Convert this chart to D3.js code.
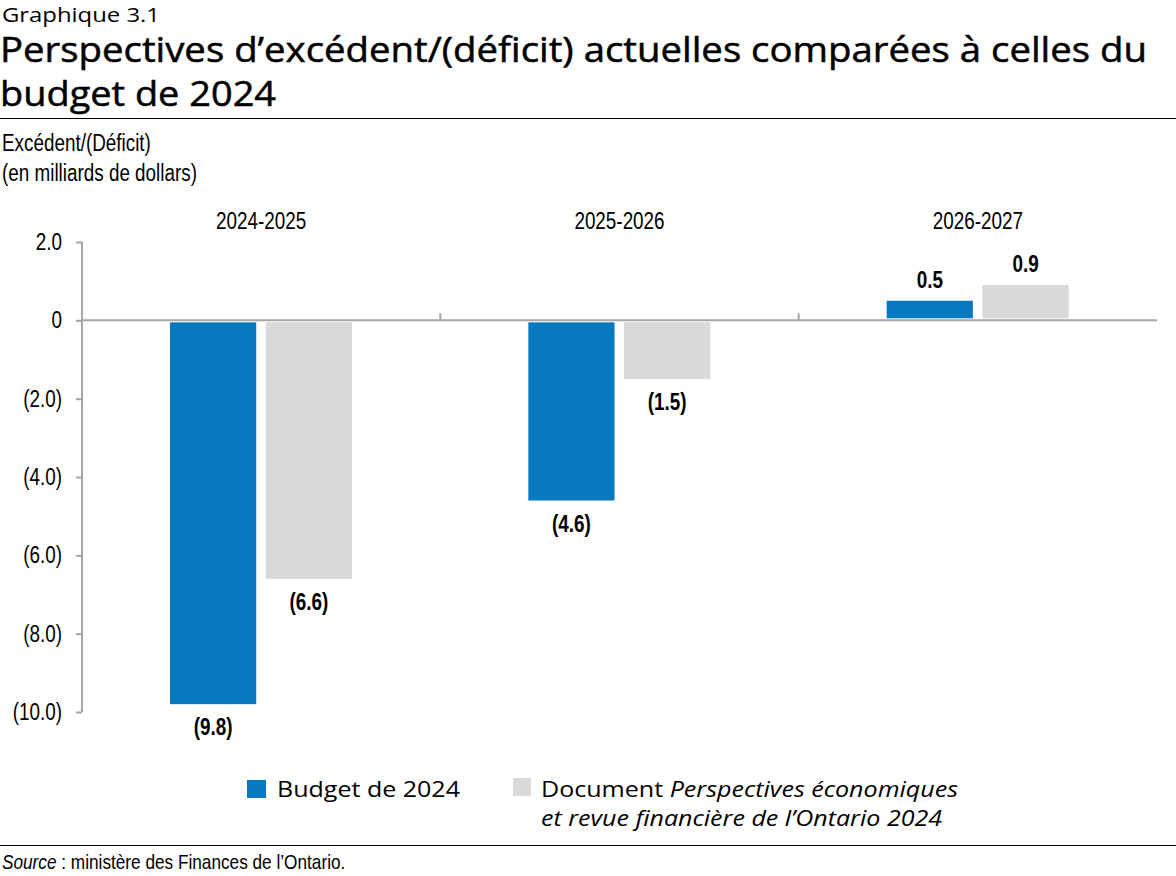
<!DOCTYPE html>
<html>
<head>
<meta charset="utf-8">
<script src="https://cdn.jsdelivr.net/npm/d3@7"></script>
<style>
  body { margin: 0; background: #fff; }
  .narrow { font-family: "Liberation Sans", Arial, sans-serif; }
  .title { font-family: "Open Sans", "Lato", sans-serif; }
</style>
</head>
<body>
<div id="chart"></div>
<script>
// data
var years = ['2024-2025', '2025-2026', '2026-2027'];
var budget2024 = [-9.8, -4.6, 0.5];
var fallStatement = [-6.6, -1.5, 0.9];
var yTicks = [2, 0, -2, -4, -6, -8, -10];
var seriesNames = ['Budget de 2024', 'Document Perspectives économiques et revue financière de l\u2019Ontario 2024'];
var colors = ['#0779bf', '#d9d9d9'];

var svgWidth = 1176;
var svgHeight = 876;
var margin = { top: 242, right: 19, bottom: 164, left: 82 };
var width = svgWidth - margin.left - margin.right;
var height = svgHeight - margin.top - margin.bottom;

var svg = d3.select('#chart')
    .append('svg')
    .attr('width', svgWidth)
    .attr('height', svgHeight);

// squeeze a text horizontally (no narrow font installed)
function squeeze(sel, factor) {
    sel.each(function() {
        var len = this.getComputedTextLength();
        d3.select(this).attr('textLength', len * factor).attr('lengthAdjust', 'spacingAndGlyphs');
    });
}
// fit a text to a given width
function fit(sel, w) {
    sel.attr('textLength', w).attr('lengthAdjust', 'spacingAndGlyphs');
}

// titles
svg.append('text').attr('class', 'title').attr('x', 2).attr('y', 22)
    .attr('font-size', '20px').text('Graphique 3.1').call(fit, 158);
svg.append('text').attr('class', 'title').attr('x', 0).attr('y', 62)
    .attr('font-size', '34px').attr('font-weight', 500)
    .attr('stroke', '#000').attr('stroke-width', 0.5)
    .text('Perspectives d\u2019excédent/(déficit) actuelles comparées à celles du')
    .call(fit, 1147);
svg.append('text').attr('class', 'title').attr('x', 0).attr('y', 106)
    .attr('font-size', '34px').attr('font-weight', 500)
    .attr('stroke', '#000').attr('stroke-width', 0.5)
    .text('budget de 2024').call(fit, 276);
svg.append('line').attr('x1', 0).attr('x2', svgWidth).attr('y1', 118.5).attr('y2', 118.5)
    .attr('stroke', '#000').attr('stroke-width', 1);

svg.append('text').attr('class', 'narrow').attr('x', 2).attr('y', 151)
    .attr('font-size', '23px').text('Excédent/(Déficit)').call(squeeze, 0.82);
svg.append('text').attr('class', 'narrow').attr('x', 2).attr('y', 181)
    .attr('font-size', '23px').text('(en milliards de dollars)').call(squeeze, 0.82);

var chartGroup = svg.append('g')
    .attr('transform', `translate(${margin.left}, ${margin.top})`);

// scales
var xScale = d3.scaleBand().domain(years).range([0, width]);
var xInner = d3.scaleBand().domain([0, 1]).range([88, 270]).paddingInner(0.1);
var yScale = d3.scaleLinear().domain([-10, 2]).range([height, 0]);

// y axis
var leftAxis = d3.axisLeft(yScale)
    .tickValues(yTicks)
    .tickSize(6)
    .tickPadding(14)
    .tickFormat(d => d === 0 ? '0' : d > 0 ? d3.format('.1f')(d) : '(' + d3.format('.1f')(-d) + ')');

var yAxisG = chartGroup.append('g').call(leftAxis);
yAxisG.select('.domain').attr('stroke', '#a6a6a6').attr('stroke-width', 2).attr('d', `M0,0V${height}`);
yAxisG.selectAll('.tick line').attr('stroke', '#a6a6a6').attr('stroke-width', 2);
yAxisG.selectAll('.tick text').attr('class', 'narrow').attr('font-size', '23px').attr('fill', '#000')
    .call(squeeze, 0.82);

// zero line with category ticks
chartGroup.append('line')
    .attr('x1', 0).attr('x2', width)
    .attr('y1', yScale(0)).attr('y2', yScale(0))
    .attr('stroke', '#a6a6a6').attr('stroke-width', 2);
chartGroup.selectAll('.cattick')
    .data(years.slice(1))
    .enter()
    .append('line')
    .attr('x1', d => xScale(d)).attr('x2', d => xScale(d))
    .attr('y1', yScale(0)).attr('y2', yScale(0) - 7)
    .attr('stroke', '#a6a6a6').attr('stroke-width', 2);

// category labels at top
chartGroup.selectAll('.catlabel')
    .data(years)
    .enter()
    .append('text')
    .attr('class', 'narrow')
    .attr('x', d => xScale(d) + xScale.bandwidth() / 2)
    .attr('y', -13)
    .attr('text-anchor', 'middle')
    .attr('font-size', '23px')
    .text(d => d)
    .call(squeeze, 0.82);

// bars
var series = [budget2024, fallStatement];
series.forEach(function(vals, si) {
    var g = chartGroup.append('g');
    g.selectAll('rect')
        .data(vals)
        .enter()
        .append('rect')
        .attr('x', (d, i) => xScale(years[i]) + xInner(si))
        .attr('width', xInner.bandwidth())
        .attr('y', d => d < 0 ? yScale(0) + 2 : yScale(d))
        .attr('height', d => Math.abs(yScale(d) - yScale(0)) - 2)
        .attr('fill', colors[si]);

    g.selectAll('text')
        .data(vals)
        .enter()
        .append('text')
        .attr('class', 'narrow')
        .attr('x', (d, i) => xScale(years[i]) + xInner(si) + xInner.bandwidth() / 2)
        .attr('y', d => d < 0 ? yScale(d) + 31 : yScale(d) - 13)
        .attr('text-anchor', 'middle')
        .attr('font-size', '23px')
        .attr('font-weight', 'bold')
        .text(d => d < 0 ? '(' + d3.format('.1f')(-d) + ')' : d3.format('.1f')(d))
        .call(squeeze, 0.82);
});

// legend
var legend = svg.append('g').attr('class', 'title');
legend.append('rect').attr('x', 247).attr('y', 780).attr('width', 19).attr('height', 18).attr('fill', colors[0]);
legend.append('text').attr('x', 277).attr('y', 797).attr('font-size', '22px').text(seriesNames[0]).call(fit, 183);
legend.append('rect').attr('x', 513).attr('y', 778).attr('width', 18).attr('height', 18).attr('fill', colors[1]);
var t2 = legend.append('text').attr('x', 541).attr('y', 797).attr('font-size', '22px');
t2.append('tspan').text('Document ');
t2.append('tspan').attr('font-style', 'italic').text('Perspectives économiques');
t2.call(fit, 417);
legend.append('text').attr('x', 541).attr('y', 826).attr('font-size', '22px')
    .attr('font-style', 'italic').text('et revue financière de l\u2019Ontario 2024').call(fit, 401);

// source
svg.append('line').attr('x1', 0).attr('x2', svgWidth).attr('y1', 845.5).attr('y2', 845.5)
    .attr('stroke', '#000').attr('stroke-width', 1);
var src = svg.append('g').attr('transform', 'translate(2, 869) scale(0.82, 1)')
    .append('text').attr('class', 'narrow').attr('font-size', '21px');
src.append('tspan').attr('font-style', 'italic').text('Source');
src.append('tspan').text(' : ministère des Finances de l\u2019Ontario.');
</script>
</body>
</html>
